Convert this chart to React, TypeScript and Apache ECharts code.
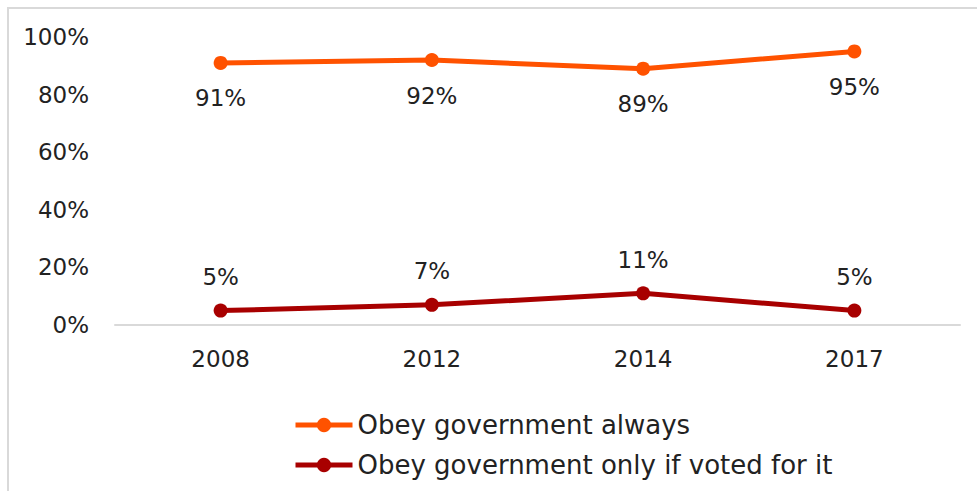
import React, { useEffect, useRef } from "react";
import * as echarts from "echarts";

const years = ["2008", "2012", "2014", "2017"];
const obeyAlways = [91, 92, 89, 95];
const obeyIfVoted = [5, 7, 11, 5];
const seriesNames = ["Obey government always", "Obey government only if voted for it"];

const FONT = "DejaVu Sans";

export default function App() {
  const ref = useRef<HTMLDivElement>(null);
  useEffect(() => {
    document.body.style.margin = "0";
    const chart = echarts.init(ref.current!, null, { renderer: "svg" });
    chart.setOption({
      animation: false,
      backgroundColor: "#ffffff",
      textStyle: { fontFamily: FONT },
      graphic: [
        { type: "line", shape: { x1: 8, y1: 7, x2: 8, y2: 491 }, style: { stroke: "#d9d9d9", lineWidth: 2 } },
        { type: "line", shape: { x1: 7, y1: 8, x2: 977, y2: 8 }, style: { stroke: "#d9d9d9", lineWidth: 2 } },
      ],
      grid: { left: 115, right: 17, top: 37, bottom: 166 },
      xAxis: {
        type: "category",
        data: years,
        boundaryGap: true,
        axisLine: { lineStyle: { color: "#d9d9d9", width: 2 } },
        axisTick: { show: false },
        axisLabel: { color: "#222", fontSize: 23, fontFamily: FONT, margin: 22 },
      },
      yAxis: {
        type: "value",
        min: 0,
        max: 100,
        interval: 20,
        axisLine: { show: false },
        axisTick: { show: false },
        splitLine: { show: false },
        axisLabel: { color: "#222", fontSize: 23, fontFamily: FONT, margin: 26, formatter: "{value}%" },
      },
      legend: {
        orient: "vertical",
        left: 293,
        top: 412,
        padding: 0,
        itemWidth: 57,
        itemHeight: 18,
        itemGap: 14,
        lineStyle: { width: 5 },
        textStyle: { color: "#222", fontSize: 26, fontFamily: FONT, lineHeight: 26 },
        data: seriesNames,
      },
      series: [
        {
          name: seriesNames[0],
          type: "line",
          data: obeyAlways,
          color: "#FF5200",
          symbol: "circle",
          symbolSize: 14,
          lineStyle: { width: 5, color: "#FF5200" },
          itemStyle: { color: "#FF5200" },
          label: {
            show: true,
            position: "bottom",
            distance: 17,
            formatter: "{c}%",
            color: "#222",
            fontSize: 23,
            fontFamily: FONT,
          },
        },
        {
          name: seriesNames[1],
          type: "line",
          data: obeyIfVoted,
          color: "#A80000",
          symbol: "circle",
          symbolSize: 14,
          lineStyle: { width: 5, color: "#A80000" },
          itemStyle: { color: "#A80000" },
          label: {
            show: true,
            position: "top",
            distance: 15,
            formatter: "{c}%",
            color: "#222",
            fontSize: 23,
            fontFamily: FONT,
          },
        },
      ],
    });
    return () => chart.dispose();
  }, []);
  return <div ref={ref} style={{ width: 977, height: 491 }} />;
}
